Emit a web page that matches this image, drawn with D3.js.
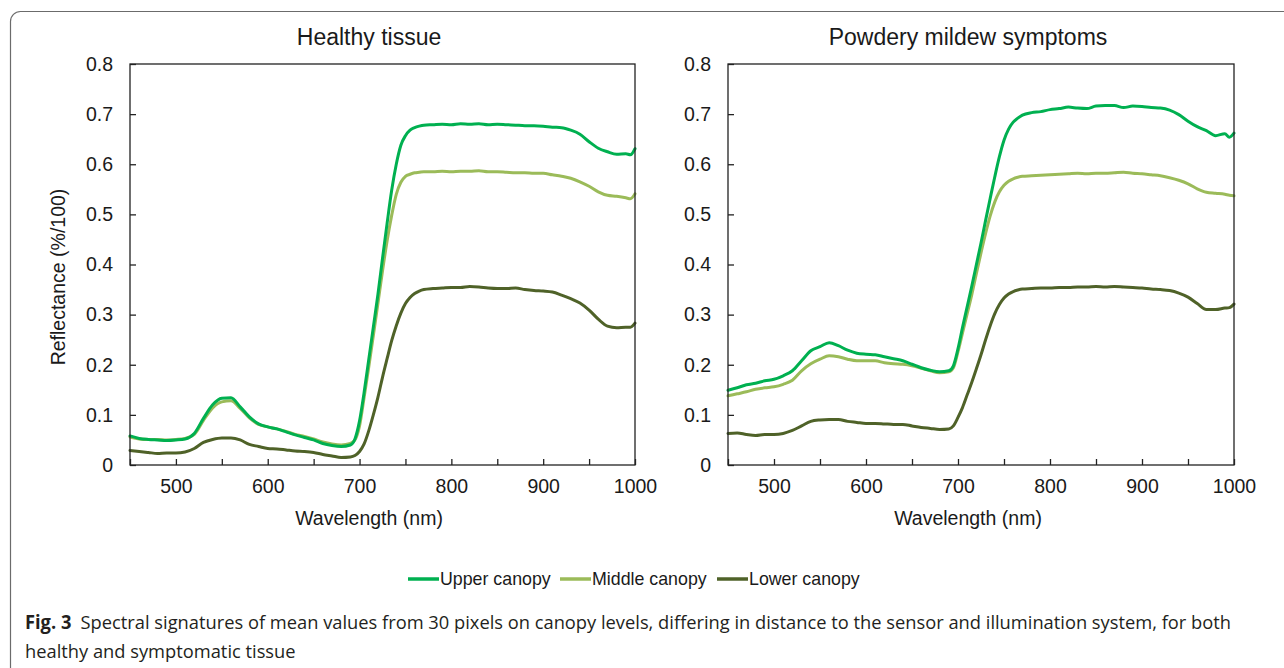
<!DOCTYPE html>
<html>
<head>
<meta charset="utf-8">
<script src="https://cdn.jsdelivr.net/npm/d3@7"></script>
<style>
	html, body { margin: 0; padding: 0; background: #fff; }
	svg { display: block; font-family: "Liberation Sans", Arial, sans-serif; }
</style>
</head>
<body>
<svg id="chart" width="1284" height="668"></svg>
<script>
// wavelength grid (nm)
const WAVELENGTHS = [
	450, 460, 470, 480, 490, 500, 510, 520, 530, 540, 550, 560, 570, 580, 590, 600, 610, 620, 630, 640, 650, 660, 670, 680, 690,
	695, 700, 705, 710, 715, 720, 725, 730, 735, 740, 745, 750, 755, 760, 765, 770,
	780, 790, 800, 810, 820, 830, 840, 850, 860, 870, 880, 890, 900, 910, 920, 930, 940, 950, 960, 970, 980, 990, 995, 1000,
];

// Healthy tissue
const HEALTHY_UPPER = [
	.058, .053, .051, .050, .049, .050, .052, .063, .093, .120, .133, .134, .116, .096, .082, .076, .072, .066, .060, .055, .050, .043, .039, .037, .040,
	.052, .088, .145, .210, .275, .340, .412, .482, .548, .600, .638, .657, .668, .673, .676, .678,
	.679, .680, .679, .681, .680, .681, .679, .680, .679, .678, .677, .677, .676, .674, .673, .668, .660, .645, .632, .625, .620, .621, .619, .631,
];
const HEALTHY_MIDDLE = [
	.056, .052, .051, .051, .050, .051, .053, .061, .089, .114, .126, .128, .113, .094, .081, .076, .072, .067, .061, .057, .052, .046, .042, .040, .043,
	.050, .078, .135, .195, .258, .322, .387, .447, .498, .540, .564, .576, .580, .583, .584, .585,
	.585, .586, .585, .586, .586, .587, .585, .585, .584, .583, .583, .582, .582, .579, .576, .572, .565, .556, .545, .538, .536, .533, .531, .541,
];
const HEALTHY_LOWER = [
	.029, .027, .025, .023, .024, .024, .026, .033, .045, .051, .054, .054, .050, .041, .037, .033, .032, .030, .028, .027, .025, .021, .018, .015, .016,
	.019, .027, .042, .068, .100, .135, .175, .212, .248, .278, .303, .322, .334, .342, .347, .350,
	.352, .353, .354, .354, .356, .355, .353, .352, .352, .353, .350, .348, .347, .345, .339, .332, .323, .309, .291, .277, .274, .275, .275, .283,
];

// Powdery mildew symptoms
const MILDEW_UPPER = [
	.149, .154, .160, .163, .168, .171, .178, .188, .208, .228, .236, .244, .238, .229, .223, .221, .220, .216, .212, .208, .201, .194, .189, .186, .188,
	.198, .232, .275, .316, .357, .400, .443, .488, .532, .575, .615, .648, .670, .684, .692, .698,
	.703, .705, .709, .711, .714, .712, .711, .716, .717, .717, .713, .716, .715, .713, .712, .708, .699, .686, .675, .667, .657, .661, .654, .662,
];
const MILDEW_MIDDLE = [
	.138, .142, .146, .151, .154, .156, .161, .169, .188, .202, .211, .218, .216, .211, .208, .208, .208, .204, .202, .201, .198, .193, .188, .184, .186,
	.194, .226, .264, .302, .340, .382, .423, .462, .497, .525, .545, .558, .566, .571, .574, .576,
	.577, .578, .579, .580, .581, .582, .581, .582, .582, .583, .584, .582, .581, .579, .577, .573, .568, .561, .551, .544, .542, .540, .538, .537,
];
const MILDEW_LOWER = [
	.063, .064, .061, .059, .061, .061, .063, .069, .078, .087, .090, .091, .091, .087, .085, .083, .083, .082, .081, .081, .078, .075, .073, .071, .072,
	.078, .095, .115, .140, .165, .192, .220, .250, .278, .302, .320, .333, .341, .346, .349, .351,
	.352, .353, .353, .354, .354, .355, .355, .356, .355, .356, .355, .354, .353, .351, .350, .348, .343, .335, .322, .310, .310, .313, .314, .321,
];

const SERIES_NAMES = ["Upper canopy", "Middle canopy", "Lower canopy"];
const SERIES_COLORS = ["#00b050", "#9bbb59", "#4f6228"];
const PANEL_TITLES = ["Healthy tissue", "Powdery mildew symptoms"];
const Y_TICKS = [0, 0.1, 0.2, 0.3, 0.4, 0.5, 0.6, 0.7, 0.8];
const X_TICKS = [450, 500, 550, 600, 650, 700, 750, 800, 850, 900, 950, 1000];
const X_LABELS = [500, 600, 700, 800, 900, 1000];
const X_TITLE = "Wavelength (nm)";
const Y_TITLE = "Reflectance (%/100)";
const CAPTION_BOLD = "Fig. 3";
const CAPTION_LINE1 = "Spectral signatures of mean values from 30 pixels on canopy levels, differing in distance to the sensor and illumination system, for both";
const CAPTION_LINE2 = "healthy and symptomatic tissue";

const PANELS = [
	{ title: PANEL_TITLES[0], series: [HEALTHY_UPPER, HEALTHY_MIDDLE, HEALTHY_LOWER], left: 130, right: 635, center: 369, yTitle: true },
	{ title: PANEL_TITLES[1], series: [MILDEW_UPPER, MILDEW_MIDDLE, MILDEW_LOWER], left: 728, right: 1234, center: 968, yTitle: false },
];
const PLOT_TOP = 64;
const PLOT_BOTTOM = 465;
const TEXT_COLOR = "#1a1a1a";

const svg = d3.select("#chart");

// outer frame of the figure box (runs off the right and bottom edge)
svg.append("rect")
	.attr("x", 10.5)
	.attr("y", 11.5)
	.attr("width", 1320)
	.attr("height", 700)
	.attr("rx", 10)
	.attr("fill", "none")
	.attr("stroke", "#6b6b6b")
	.attr("stroke-width", 1.2);

for (const panel of PANELS) {
	drawPanel(panel);
}
drawLegend();
drawCaption();

function drawPanel(panel) {
	const g = svg.append("g");

	const xScale = d3.scaleLinear()
		.domain([450, 1000])
		.range([panel.left, panel.right]);
	const yScale = d3.scaleLinear()
		.domain([0, 0.8])
		.range([PLOT_BOTTOM, PLOT_TOP]);

	const line = d3.line()
		.x(d => xScale(d.wl))
		.y(d => yScale(d.value))
		.curve(d3.curveMonotoneX);

	// draw lower first so upper sits on top
	for (let i = panel.series.length - 1; i >= 0; i--) {
		const data = WAVELENGTHS.map((wl, j) => ({ wl: wl, value: panel.series[i][j] }));
		g.append("path")
			.datum(data)
			.attr("fill", "none")
			.attr("stroke", SERIES_COLORS[i])
			.attr("stroke-width", 3)
			.attr("stroke-linejoin", "round")
			.attr("stroke-linecap", "round")
			.attr("d", line);
	}

	// plot box
	g.append("rect")
		.attr("x", panel.left)
		.attr("y", PLOT_TOP)
		.attr("width", panel.right - panel.left)
		.attr("height", PLOT_BOTTOM - PLOT_TOP)
		.attr("fill", "none")
		.attr("stroke", "#222")
		.attr("stroke-width", 1.3);

	// left axis, ticks inward
	g.append("g")
		.attr("transform", `translate(${panel.left}, 0)`)
		.call(d3.axisLeft(yScale)
			.tickValues(Y_TICKS)
			.tickSizeInner(-6)
			.tickSizeOuter(0)
			.tickPadding(17)
			.tickFormat(d => d === 0 ? "0" : d3.format(".1f")(d)))
		.call(ax => ax.select(".domain").remove())
		.call(ax => ax.selectAll("line").attr("stroke", "#222").attr("stroke-width", 1.3))
		.call(ax => ax.selectAll("text")
			.attr("font-size", 19.5)
			.attr("fill", TEXT_COLOR)
			.attr("font-family", "Liberation Sans, Arial, sans-serif"));

	// bottom axis, ticks every 50 nm pointing up
	g.append("g")
		.attr("transform", `translate(0, ${PLOT_BOTTOM})`)
		.call(d3.axisBottom(xScale)
			.tickValues(X_TICKS)
			.tickSizeInner(-6)
			.tickSizeOuter(0)
			.tickPadding(14)
			.tickFormat(d => X_LABELS.includes(d) ? String(d) : ""))
		.call(ax => ax.select(".domain").remove())
		.call(ax => ax.selectAll("line").attr("stroke", "#222").attr("stroke-width", 1.3))
		.call(ax => ax.selectAll("text")
			.attr("font-size", 19.5)
			.attr("fill", TEXT_COLOR)
			.attr("font-family", "Liberation Sans, Arial, sans-serif"));

	g.append("text")
		.attr("x", panel.center)
		.attr("y", 45)
		.attr("text-anchor", "middle")
		.attr("font-size", 23)
		.attr("fill", TEXT_COLOR)
		.text(panel.title);

	g.append("text")
		.attr("x", panel.center)
		.attr("y", 525)
		.attr("text-anchor", "middle")
		.attr("font-size", 19.5)
		.attr("fill", TEXT_COLOR)
		.text(X_TITLE);

	if (panel.yTitle) {
		g.append("text")
			.attr("transform", "translate(65, 277) rotate(-90)")
			.attr("text-anchor", "middle")
			.attr("font-size", 19.5)
			.attr("fill", TEXT_COLOR)
			.text(Y_TITLE);
	}
}

function drawLegend() {
	const starts = [408, 560, 717];
	const y = 579;
	const g = svg.append("g");
	SERIES_NAMES.forEach((name, i) => {
		g.append("line")
			.attr("x1", starts[i])
			.attr("x2", starts[i] + 31)
			.attr("y1", y)
			.attr("y2", y)
			.attr("stroke", SERIES_COLORS[i])
			.attr("stroke-width", 3.5);
		g.append("text")
			.attr("x", starts[i] + 32)
			.attr("y", y + 6)
			.attr("font-size", 17.8)
			.attr("fill", TEXT_COLOR)
			.text(name);
	});
}

function drawCaption() {
	const g = svg.append("g")
		.attr("font-family", "'Open Sans', 'Noto Sans', sans-serif")
		.attr("font-size", 19)
		.attr("fill", "#231f20");

	const line1 = g.append("text").attr("y", 0);
	line1.append("tspan")
		.attr("font-weight", "bold")
		.text(CAPTION_BOLD);
	line1.append("tspan")
		.text("\u2002" + CAPTION_LINE1);

	const line2 = g.append("text").attr("y", 0).text(CAPTION_LINE2);

	// the journal font is condensed: squeeze to the measured width
	const natural = line1.node().getComputedTextLength();
	const k = (1232 - 25) / natural;
	line1.attr("transform", `translate(25, 629) scale(${k}, 1)`);
	line2.attr("transform", `translate(25, 658) scale(${k}, 1)`);
}
</script>
</body>
</html>
